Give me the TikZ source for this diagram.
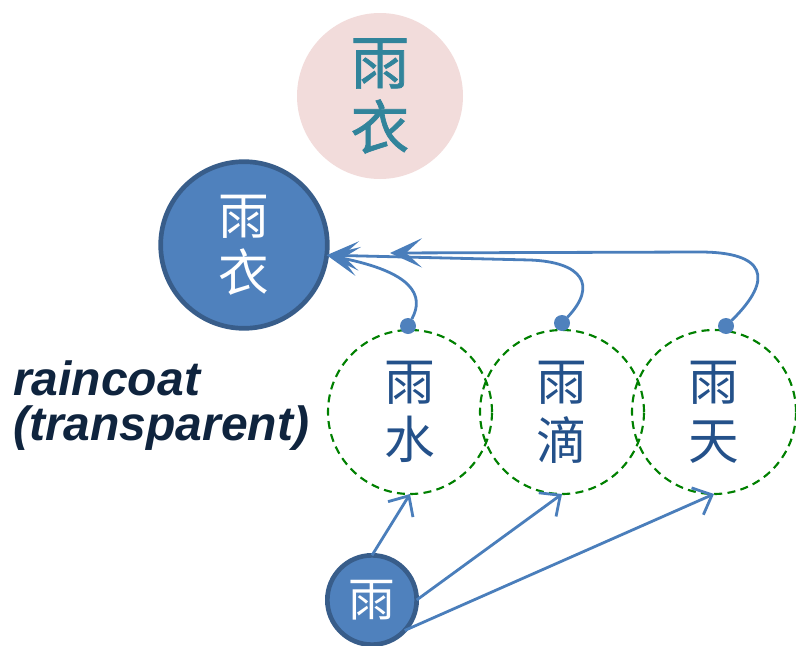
\documentclass[tikz,border=0pt]{standalone}
\usepackage{fontspec}
\setmainfont{Liberation Sans}
\newfontfamily\cjk{Noto Sans CJK TC}
\newfontfamily\cjkheavy[FakeBold=1.2]{Noto Sans CJK TC}
\usetikzlibrary{arrows.meta}
\definecolor{pinkfill}{HTML}{F2DCDB}
\definecolor{tealtext}{HTML}{31849B}
\definecolor{bluefill}{HTML}{4F81BD}
\definecolor{blueedge}{HTML}{385D8A}
\definecolor{navytext}{HTML}{0F243E}
\definecolor{cjkblue}{HTML}{24518A}
\definecolor{greendash}{HTML}{008000}
\definecolor{arrowblue}{HTML}{4A7EBB}
\begin{document}
\begin{tikzpicture}[x=0.75pt,y=-0.75pt,
  pinkdisc/.style={circle, fill=pinkfill, minimum size=124.5pt, inner sep=0pt, outer sep=0pt,
    text=tealtext, align=center, font=\cjkheavy\fontsize{44}{48.75}\selectfont},
  bigdisc/.style={circle, fill=bluefill, draw=blueedge, line width=3.5pt, minimum size=125pt,
    inner sep=0pt, outer sep=0pt, text=white, align=center, font=\cjk\fontsize{38}{43}\selectfont},
  smalldisc/.style={circle, fill=bluefill, draw=blueedge, line width=3.5pt, minimum size=67pt,
    inner sep=0pt, outer sep=0pt, text=white, font=\cjk\fontsize{35}{40}\selectfont},
  dashdisc/.style={circle, draw=greendash, line width=1.6pt, dash pattern=on 6pt off 4pt,
    minimum size=123pt, inner sep=0pt, outer sep=0pt, text=cjkblue, align=center,
    font=\cjk\fontsize{38}{44}\selectfont},
  dotnode/.style={circle, fill=bluefill, minimum size=12pt, inner sep=0pt, outer sep=0pt},
  toparrow/.style={draw=arrowblue, line width=2.1pt,
    -{Stealth[length=24pt,width=22pt,inset=12pt]}},
  botarrow/.style={draw=arrowblue, line width=2.1pt,
    -{Straight Barb[length=12pt,width=22pt]}},
  label/.style={text=navytext, align=left, inner sep=0pt,
    font=\fontsize{36}{33.75}\selectfont\bfseries\itshape}
]
\useasboundingbox (0,0) rectangle (796,646);

\node[pinkdisc] (pk) at (380,96) {雨\\衣};
\node[bigdisc] (bc) at (244,245) {雨\\衣};

\node[dashdisc] (dc1) at (410,412) {雨\\水};
\node[dashdisc] (dc2) at (562,412) {雨\\滴};
\node[dashdisc] (dc3) at (714,412) {雨\\天};

\node[smalldisc] (bb) at (372,600) {雨};

\node[label, anchor=base west] (lbl) at (13,440) {raincoat\\(transparent)};

\node[dotnode] (d1) at (408,326) {};
\node[dotnode] (d2) at (562,323) {};
\node[dotnode] (d3) at (726,326) {};
\coordinate (tipC) at (390,253);

\draw[toparrow] (d1) .. controls (425,295) and (412,272) .. (bc.-7);
\draw[toparrow] (d2) .. controls (598,285) and (582,262) .. (530,260) -- (bc.-7);
\draw[toparrow] (d3) .. controls (775,278) and (765,252) .. (700,252) -- (tipC);

\draw[botarrow] (bb.north) -- (dc1.south);
\draw[botarrow] (bb.0) -- (dc2.south);
\draw[botarrow] (bb.-43) -- (dc3.south);
\end{tikzpicture}
\end{document}
